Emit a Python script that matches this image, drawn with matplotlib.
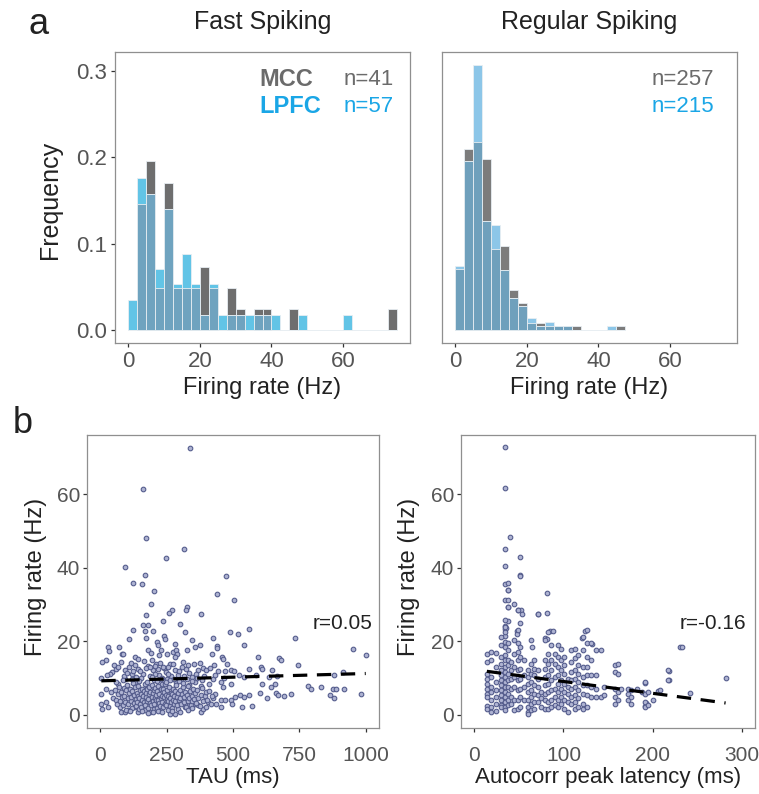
import numpy as np
import matplotlib
matplotlib.use('Agg')
import matplotlib.pyplot as plt

# ---- panel a: firing-rate histograms, 2.5 Hz bins starting at 0 ----
bin_w = 2.5
fs_mcc_counts  = [0, 6, 8, 2, 7, 2, 2, 2, 3, 2, 0, 2, 1, 0, 1, 1, 0, 0, 1, 0,
                  0, 0, 0, 0, 0, 0, 0, 0, 0, 1]
fs_lpfc_counts = [2, 10, 9, 4, 8, 3, 5, 3, 1, 3, 1, 1, 1, 1, 1, 1, 1, 0, 0, 1,
                  0, 0, 0, 0, 1]
rs_mcc_counts  = [18, 54, 56, 51, 24, 25, 12, 8, 2, 2, 1, 1, 1, 1, 0, 0, 0, 0, 1]
rs_lpfc_counts = [16, 42, 66, 27, 26, 15, 8, 6, 3, 1, 2, 1, 1, 0, 0, 0, 0, 1]
fs_n = [41, 57]
rs_n = [257, 215]
hist_titles = ['Fast Spiking', 'Regular Spiking']

# ---- panel b: firing rate vs TAU / autocorrelation peak latency ----
tau_pts = [
    (338,72.6),(162,61.5),(174,48.2),(315,45.1),(247,42.8),(95,40.3),(170,38.0),(472,37.7),
    (124,36.0),(157,35.5),(202,33.7),(438,33.0),(503,31.2),(192,30.1),(325,29.4),(322,28.4),
    (270,28.6),(258,27.6),(380,27.5),(171,27.2),(237,25.5),(301,24.7),(162,24.4),(179,24.4),
    (122,23.0),(169,22.9),(200,22.7),(320,22.5),(487,22.5),(517,22.0),(562,23.4),(108,20.5),
    (173,21.0),(241,21.3),(243,20.5),(345,20.2),(423,20.8),(734,20.9),(215,19.7),(217,18.9),
    (282,19.2),(374,19.1),(355,18.3),(440,18.8),(438,18.1),(541,18.9),(952,17.9),(69,18.4),
    (30,18.3),(31,17.3),(83,16.4),(87,16.5),(181,17.7),(192,16.8),(230,17.7),(274,17.1),
    (285,17.7),(325,17.5),(1000,16.2),(129,15.7),(142,15.2),(223,16.2),(253,16.5),(290,16.4),
    (282,15.7),(422,16.6),(459,15.7),(464,15.2),(594,15.6),(674,15.5),(679,14.8),(20,15.0),
    (5,14.3),(743,13.5),
    (43,11.6),(36,11.2),(79,14.3),(60,12.4),(94,12.1),(109,13.0),(120,11.0),(142,12.5),
    (161,11.2),(180,13.2),(198,12.1),(211,13.9),(223,10.7),(240,12.8),(261,13.7),(280,12.1),
    (292,10.7),(311,14.4),(324,12.5),(336,11.4),(353,13.9),(368,12.1),(386,12.8),(399,12.1),
    (428,13.4),(445,11.8),(468,11.9),(491,12.1),(522,10.9),(561,12.3),(604,13.0),(609,12.4),
    (648,12.1),(882,10.7),(913,11.6),
    (4,9.9),(25,10.7),(67,8.3),(92,9.8),(129,8.9),(154,10.1),(173,8.2),(204,9.4),(233,8.3),
    (252,9.8),(286,8.9),(305,9.4),(334,8.0),(355,8.9),(380,7.8),(408,8.4),(424,9.8),(453,8.9),
    (466,10.0),(493,8.4),(541,10.3),(585,10.7),(609,8.4),(637,10.3),(660,8.4),(666,10.4),
    (52,13.5),(68,12.9),(88,10.6),(101,11.4),(115,14.0),(131,13.4),(136,10.2),(148,11.8),
    (166,14.6),(172,12.6),(188,10.6),(193,14.8),(207,11.1),(218,12.5),(226,14.2),(234,10.1),
    (246,11.5),(257,12.9),(265,10.4),(273,13.9),(298,11.9),(307,12.9),(317,10.5),(331,13.5),
    (344,10.2),(362,11.2),(375,14.1),(391,10.5),(412,12.6),(434,10.9),(478,13.8),(505,11.9),
    (782,7.7),(794,7.1),(832,7.4),(876,7.1),(888,7.1),(920,7.1),(866,5.3),(882,4.4),(981,5.7),
    (506,4.8),(525,5.3),(543,4.8),(560,5.3),(493,3.9),(496,3.0),(533,2.1),(573,2.4),(600,5.9),
    (629,4.4),(644,7.5),(663,5.9),(669,5.3),(691,5.0),(719,5.5),(437,3.0),(456,3.9),(468,4.1),
    (456,2.1),(434,5.7),(462,7.4),(4,5.7),(4,3.0),(6,1.6),(23,7.1),(23,3.4),(29,2.1),(41,6.2),
    (48,4.4),(73,2.1),(79,0.7),(92,0.7),(104,1.2),(129,2.1),(142,0.7),(167,1.2),(186,0.7),
    (204,1.6),(223,2.1),(255,1.2),(261,0.3),(282,0.1),(292,1.6),(318,2.1),(336,2.5),(355,3.0),
    (368,2.5),(378,0.7),(386,1.4),(399,2.1),(405,3.4),(424,4.6),
    (55,6.8),(58,4.1),(62,2.9),(66,5.5),(70,7.6),(74,3.8),(78,6.1),(81,4.9),(85,2.6),(88,7.2),
    (90,5.1),(95,3.4),(97,6.6),(100,8.1),(103,4.4),(106,2.8),(108,5.9),(112,7.0),(114,3.6),
    (117,4.8),(119,1.9),(121,6.3),(124,8.6),(126,3.1),(128,5.4),(131,7.4),(133,2.4),(135,4.2),
    (137,6.0),(139,3.5),(141,5.0),(143,7.9),(145,1.6),(147,4.5),(149,6.7),(151,3.0),(153,5.6),
    (155,2.2),(157,7.1),(159,4.0),(161,5.2),(163,3.3),(165,6.3),(167,8.4),(169,2.7),(171,4.7),
    (173,5.9),(175,3.8),(177,6.9),(179,1.9),(181,4.3),(183,5.5),(185,7.6),(187,3.1),(189,6.2),
    (191,2.5),(193,4.9),(195,8.0),(197,3.6),(199,5.8),(201,6.8),(203,2.9),(205,4.4),(207,7.3),
    (209,3.9),(211,5.3),(213,1.8),(215,6.4),(217,4.1),(219,7.8),(221,3.2),(223,5.6),(225,2.4),
    (227,6.9),(229,4.6),(231,3.5),(233,5.1),(235,7.0),(237,2.0),(239,4.8),(241,6.1),(243,3.0),
    (245,8.3),(247,5.4),(249,2.6),(251,4.2),(253,6.6),(255,3.7),(257,5.0),(259,7.5),(261,2.3),
    (263,4.5),(265,6.0),(267,3.3),(269,5.7),(271,1.9),(273,7.1),(275,4.0),(277,5.2),(279,2.8),
    (281,6.4),(283,3.6),(285,8.0),(288,4.7),(290,2.5),(293,5.9),(296,3.9),(299,6.8),(302,4.4),
    (305,2.9),(308,5.5),(311,7.4),(314,3.4),(317,4.9),(320,6.2),(323,2.2),(326,5.3),(329,7.7),
    (332,3.8),(335,4.6),(338,6.5),(341,2.7),(344,5.1),(347,3.6),(350,7.0),(354,4.3),(358,5.8),
    (362,3.1),(366,6.7),(370,4.5),(374,2.4),(378,5.4),(383,7.2),(388,3.7),(393,5.0),(398,6.1),
    (403,4.1),(410,6.4),(416,2.8),(421,5.2),(58,8.8),(84,9.3),(118,9.6),(146,9.2),(176,9.0),
    (196,10.3),(212,9.1),(228,9.7),(248,9.0),(262,9.5),(276,9.8),(296,9.2),(312,8.7),(328,9.6),
    (346,9.1),(364,9.9),(384,9.3),(96,1.3),(113,0.9),(158,1.1),(178,0.5),(198,0.8),(216,1.0),
    (232,0.6),(270,1.0),(300,0.8),(330,1.2),(346,1.7),(124,11.8),(186,12.9),(206,13.3),
    (256,11.0),(236,13.1),
]

lat_pts = [
    (34,72.8),(34,61.7),(40.5,48.4),(34,45.2),(34,40.5),(51,43.0),(51,38.0),(51,37.8),
    (34,35.6),(38,36.0),(38,33.9),(81,33.1),(34,31.2),(44,30.1),(38,29.4),(49,28.6),(52,28.6),
    (54,27.3),(71,27.5),(81,27.7),(51,25.0),(38,25.5),(34,24.1),(34,23.4),(35,23.6),(34,21.4),
    (48,22.8),(48,22.1),(85,22.8),(88.5,22.8),(124,22.9),(121,21.0),(132,19.2),(79,21.0),
    (82,20.5),(64,20.3),(64.5,18.5),(231,18.3),(282,10.1),(218,11.9),(218,9.5),(241.5,5.9),
    (201,3.9),(192,2.3),(193,3.2),(188,6.1),(192,8.6),(206.5,6.4),
    (14,16.4),(14,14.4),(14,11.2),(14,9.8),(14,8.4),(14,7.1),(14,5.7),(14,4.8),(14,2.3),(14,1.6),
    (19,17.1),(19,14.8),(19,10.3),(19,7.5),(19,6.2),(19,3.9),(19,2.1),(19,0.7),
    (24,16.8),(24,13.0),(24,8.9),(24,6.6),(24,4.8),(24,3.0),(24,1.0),
    (30,21.2),(30,18.9),(30,15.7),(30,13.9),(30,12.1),(30,10.7),(30,9.4),(30,8.0),(30,6.6),
    (30,5.3),(30,3.9),(30,2.5),(30,2.1),
    (34,25.7),(34,23.9),(34,22.5),(34,19.8),(34,18.4),(34,16.2),(34,14.8),(34,13.0),(34,11.6),
    (34,10.3),(34,8.9),(34,7.5),(34,6.2),(34,4.8),(34,3.4),(34,2.1),(34,1.2),
    (37.5,33.9),(37.5,31.2),(37.5,29.4),(37.5,19.4),(37.5,17.5),(37.5,14.8),(37.5,13.4),
    (37.5,11.2),(37.5,9.4),(37.5,7.5),(37.5,5.7),(37.5,3.9),(37.5,2.5),
    (41,14.4),(41,12.1),(41,9.8),(41,7.1),(41,4.8),(41,3.0),
    (45,20.3),(45,16.6),(45,13.0),(45,10.3),(45,7.5),(45,3.9),(45,1.2),
    (48.7,28.5),(48.7,23.0),(48.7,19.4),(48.7,17.1),(48.7,14.8),(48.7,12.1),(48.7,9.4),
    (48.7,6.6),(48.7,3.9),(48.7,1.6),
    (51,18.4),(51,15.7),(51,12.5),(51,9.8),(51,7.1),(51,4.8),(51,2.1),
    (56,14.8),(56,10.7),(56,7.5),(56,3.9),
    (60,12.1),(60,10.3),(60,8.4),(60,6.2),(60,3.9),(60,2.1),(60,0.7),(60,0.1),
    (64,13.9),(64,11.2),(64,8.9),(64,6.6),(64,4.8),(64,3.0),(64,1.2),
    (67,14.8),(67,12.5),(67,10.7),(67,8.0),(67,5.7),(67,3.4),(67,1.6),
    (71,27.5),(71,12.1),(71,9.8),(71,7.5),(71,5.3),(71,3.4),
    (75,6.2),(75,4.4),(75,2.1),
    (79,20.3),(79,14.8),(79,12.5),(79,10.3),(79,8.0),(79,5.7),(79,3.9),(79,1.6),
    (82.5,22.5),(82.5,16.6),(82.5,13.9),(82.5,10.7),(82.5,8.4),(82.5,6.2),(82.5,3.4),(82.5,1.6),
    (86,18.9),(86,14.8),(86,12.1),(86,9.4),(86,6.6),(86,3.9),(86,2.1),
    (90,16.6),(90,13.9),(90,10.3),(90,7.1),(90,4.8),(90,2.5),
    (94,18.9),(94,15.7),(94,13.0),(94,10.7),(94,8.4),(94,6.2),(94,3.9),(94,2.1),
    (97.5,18.0),(97.5,14.8),(97.5,12.1),(97.5,9.4),(97.5,7.1),(97.5,4.8),(97.5,3.0),
    (101,15.7),(101,13.4),(101,11.2),(101,8.4),(101,6.2),(101,3.9),(101,1.6),
    (105,9.8),(105,7.5),(105,5.7),(105,3.4),(105,0.7),
    (109,17.5),(109,14.4),(109,11.6),(109,9.4),(109,7.1),(109,4.8),(109,3.0),
    (112.5,18.0),(112.5,15.3),(112.5,12.1),(112.5,9.8),(112.5,7.5),(112.5,5.3),(112.5,3.4),
    (112.5,1.6),
    (116,16.2),(116,13.4),(116,11.2),(116,8.9),(116,6.6),(116,4.4),(116,2.1),
    (122,21.2),(122,17.5),(122,13.0),(122,10.3),(122,8.0),(122,5.7),(122,3.0),(122,1.6),
    (126,23.0),(126,19.4),(126,15.7),(126,13.0),(126,10.7),(126,8.0),(126,5.3),(126,2.1),
    (131,19.4),(131,14.8),(131,10.7),(131,7.5),(131,4.8),
    (137,17.5),(137,10.7),(137,7.1),(137,4.8),
    (142.5,17.5),(142.5,4.8),(146,7.5),(146,5.3),
    (157.5,13.4),(157.5,11.6),(157.5,7.1),(157.5,4.8),(157.5,3.0),
    (161,13.9),(161,11.2),(161,6.2),(161,3.9),(165,7.1),
    (172.5,7.1),(172.5,5.7),(172.5,3.9),(176,6.6),(176,4.8),(176,3.0),(183,7.1),
    (191,8.9),(191,5.7),(191,3.4),(191,2.1),(195,6.2),(195,2.5),(208,6.6),
    (217.5,12.1),(217.5,9.5),(232.5,18.3),
]

# least-squares lines and correlations as printed on the figure
tau_fit = [9.2, 0.0020]      # intercept, slope
lat_fit = [12.25, -0.0322]
tau_r = 'r=0.05'
lat_r = 'r=-0.16'

# ---- style ----
W, H = 759, 794
narrow = ['Liberation Sans Narrow', 'Liberation Sans', 'DejaVu Sans']
plain = ['Liberation Sans', 'DejaVu Sans']
plt.rcParams['font.family'] = plain
gray_txt = '#555555'
col_mcc_txt = '#6b6b6b'
col_lpfc_txt = '#1aa6e6'
dot_face = '#aeb3d2'
dot_edge = '#555d8d'

fig = plt.figure(figsize=(W / 100, H / 100), dpi=100)


def px_axes(l, t, r, b):
    return fig.add_axes([l / W, 1 - b / H, (r - l) / W, (b - t) / H])


def frame(ax):
    for s in ax.spines.values():
        s.set_color('#8f8f8f')
        s.set_linewidth(0.9)
    ax.tick_params(length=3, width=0.9, color='#333333')


def draw_hist(ax, mcc_c, lpfc_c, n, c_mcc, c_lpfc, c_both):
    nb = max(len(mcc_c), len(lpfc_c))
    mcc = np.zeros(nb)
    lpfc = np.zeros(nb)
    mcc[:len(mcc_c)] = mcc_c
    lpfc[:len(lpfc_c)] = lpfc_c
    f_mcc = mcc / n[0]
    f_lpfc = lpfc / n[1]
    left = np.arange(nb) * bin_w
    kw = dict(width=bin_w, align='edge', edgecolor='#e8eef2', linewidth=0.6)
    ax.bar(left, f_mcc, color=c_mcc, **kw)
    ax.bar(left, f_lpfc, color=c_lpfc, **kw)
    ax.bar(left, np.minimum(f_mcc, f_lpfc), color=c_both, **kw)
    ax.set_xlim(-3.75, 78.75)
    ax.set_ylim(-0.0153, 0.322)
    ax.set_xticks([0, 20, 40, 60])
    ax.set_yticks([0, 0.1, 0.2, 0.3])
    ax.set_yticklabels(['0.0', '0.1', '0.2', '0.3'])
    frame(ax)
    ax.tick_params(labelsize=16, labelcolor=gray_txt, pad=3)
    for lab in ax.get_xticklabels() + ax.get_yticklabels():
        lab.set_family(narrow)
    ax.text(0.5, -0.153, 'Firing rate (Hz)', transform=ax.transAxes, ha='center',
            va='center', fontsize=17, family=narrow, color='#222222')


ax_fs = px_axes(115, 52, 410, 343)
ax_rs = px_axes(442, 52, 737, 343)
draw_hist(ax_fs, fs_mcc_counts, fs_lpfc_counts, fs_n, '#6e6e6e', '#62c4e6', '#6fa3bf')
draw_hist(ax_rs, rs_mcc_counts, rs_lpfc_counts, rs_n, '#7c7c7c', '#8cc6e8', '#6fa0bc')
ax_rs.tick_params(labelleft=False, left=False)

for ax, title in zip([ax_fs, ax_rs], hist_titles):
    ax.text(0.5, 1.103, title, transform=ax.transAxes, ha='center', va='center',
            fontsize=18, family=narrow, color='#222222')

ax_fs.text(-0.219, 0.49, 'Frequency', transform=ax_fs.transAxes, rotation=90,
           ha='center', va='center', fontsize=18, color='#222222')

# group legend
ax_fs.text(0.49, 0.906, 'MCC', transform=ax_fs.transAxes, ha='left', va='center',
           fontsize=17, fontweight='bold', color=col_mcc_txt)
ax_fs.text(0.49, 0.812, 'LPFC', transform=ax_fs.transAxes, ha='left', va='center',
           fontsize=17, fontweight='bold', color=col_lpfc_txt)
for ax, n, xn in [(ax_fs, fs_n, 0.774), (ax_rs, rs_n, 0.712)]:
    ax.text(xn, 0.906, 'n=%d' % n[0], transform=ax.transAxes, ha='left', va='center',
            fontsize=16, color=col_mcc_txt)
    ax.text(xn, 0.812, 'n=%d' % n[1], transform=ax.transAxes, ha='left', va='center',
            fontsize=16, color=col_lpfc_txt)

# ---- scatter panels ----
ax_tau = px_axes(87, 435, 379, 728)
ax_lat = px_axes(461, 435, 755, 728)

tau_x, tau_y = np.array(tau_pts).T
lat_x, lat_y = np.array(lat_pts).T

for ax, x, y, fit, r, xlab, xlim, xt, rx in [
        (ax_tau, tau_x, tau_y, tau_fit, tau_r, 'TAU (ms)', (-50, 1050),
         [0, 250, 500, 750, 1000], 0.978),
        (ax_lat, lat_x, lat_y, lat_fit, lat_r, 'Autocorr peak latency (ms)', (-15, 315),
         [0, 100, 200, 300], 0.971)]:
    ax.scatter(x, y, s=11, facecolor=dot_face, edgecolor=dot_edge, linewidth=0.8, zorder=2)
    xs = np.array([x.min(), x.max()])
    ax.plot(xs, fit[0] + fit[1] * xs, ls=(0, (4.5, 3)), color='black', lw=2.3, zorder=3)
    ax.set_xlim(*xlim)
    ax.set_ylim(-3.65, 76.2)
    ax.set_xticks(xt)
    ax.set_yticks([0, 20, 40, 60])
    frame(ax)
    ax.tick_params(axis='y', labelsize=15, labelcolor=gray_txt, pad=2)
    ax.tick_params(axis='x', labelsize=15, labelcolor=gray_txt, pad=10)
    for lab in ax.get_xticklabels():
        lab.set_family(narrow)
    ax.text(0.5, -0.168, xlab, transform=ax.transAxes, ha='center', va='center',
            fontsize=16, family=narrow, color='#222222')
    ax.text(-0.176, 0.515, 'Firing rate (Hz)', transform=ax.transAxes, rotation=90,
            ha='center', va='center', fontsize=17, color='#222222')
    ax.text(rx, 0.355, r, transform=ax.transAxes, ha='right', va='center',
            fontsize=15, color='#222222')

fig.text(39 / W, 1 - 24 / H, 'a', ha='center', va='center', fontsize=26, color='#222222')
fig.text(23 / W, 1 - 424 / H, 'b', ha='center', va='center', fontsize=26, color='#222222')

fig.savefig('out.png', dpi=100)
